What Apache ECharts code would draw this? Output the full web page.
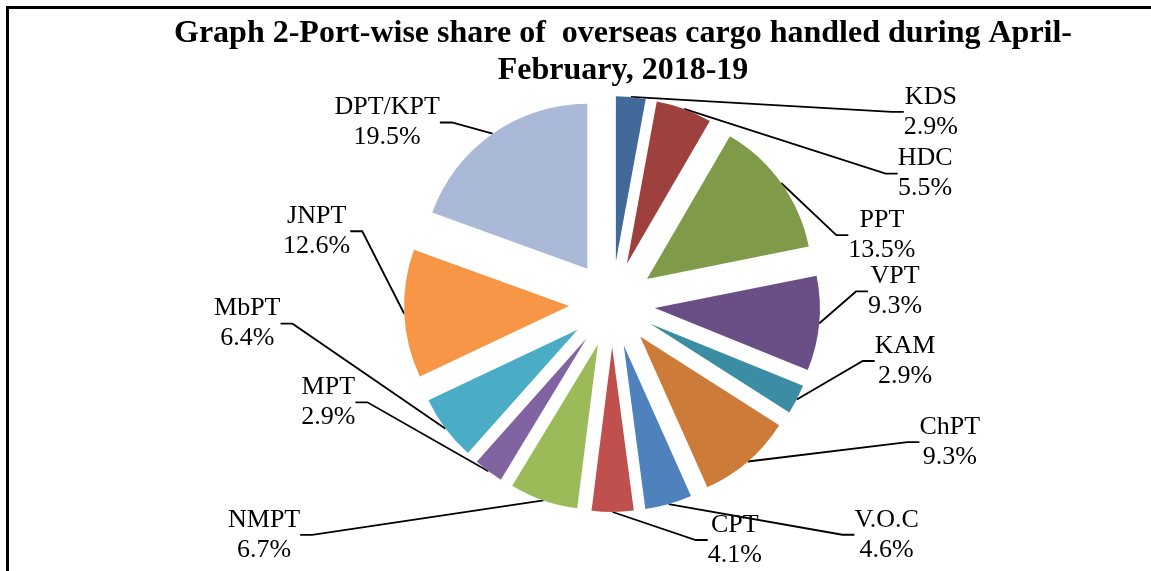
<!DOCTYPE html>
<html>
<head>
<meta charset="utf-8">
<script src="https://cdn.jsdelivr.net/npm/echarts@6/dist/echarts.min.js"></script>
<style>
  html, body { margin: 0; padding: 0; background: #fff; }
  #chart { width: 1151px; height: 571px; }
</style>
</head>
<body>
<div id="chart"></div>
<script>
// port-wise share (%), clockwise from 12 o'clock
const ports = ['KDS', 'HDC', 'PPT', 'VPT', 'KAM', 'ChPT', 'V.O.C', 'CPT', 'NMPT', 'MPT', 'MbPT', 'JNPT', 'DPT/KPT']
const shares = [2.9, 5.5, 13.5, 9.3, 2.9, 9.3, 4.6, 4.1, 6.7, 2.9, 6.4, 12.6, 19.5]

const colors = ['#41699A', '#9E413E', '#7F9B49', '#6A4F87', '#3B8DA4', '#CD7B38', '#4F81BD',
  '#C0504D', '#9BBB59', '#8064A2', '#4BACC6', '#F79646', '#AAB9D7']

// nudge of each label away from echarts' default spot, px
const labelNudge = [[255, 23], [193, 72], [42, 56], [22, -35], [52, -45], [148, -29], [166, 19],
  [78, 16], [-223, 23], [-110, -79], [-140, -113], [-27, -85], [-30, -5]]

const CX = 612, CY = 304, R = 165, EXPLODE = 43
const serif = '"Liberation Serif", "Times New Roman", serif'

const total = shares.reduce((a, b) => a + b, 0)

// every slice is pulled out, so each one gets its own pie whose centre is shifted
// along the slice's mid angle; the other slices of that pie stay invisible
function explodedSeries() {
  let acc = 0
  return shares.map((v, i) => {
    const mid = (acc + v / 2) / total * Math.PI * 2
    acc += v
    return {
      type: 'pie',
      center: [CX + EXPLODE * Math.sin(mid), CY - EXPLODE * Math.cos(mid)],
      radius: R,
      startAngle: 90,
      clockwise: true,
      silent: true,
      avoidLabelOverlap: false,
      emphasis: { disabled: true },
      label: {
        position: 'outside',
        formatter: (p) => `{c|${p.name}}\n{c|${p.value}%}`,
        rich: { c: { align: 'center', fontFamily: serif, fontSize: 26, lineHeight: 30, color: '#000' } },
      },
      labelLine: { length: 10, length2: 12, lineStyle: { color: '#000', width: 1.8 } },
      labelLayout: (p) => {
        if (p.dataIndex !== i) return {}
        return {
          x: p.labelRect.x + labelNudge[i][0],
          y: p.labelRect.y + labelNudge[i][1],
          align: 'left',
          verticalAlign: 'top',
        }
      },
      data: ports.map((name, j) => ({
        name,
        value: shares[j],
        itemStyle: j === i ? { color: colors[j] } : { color: colors[j], opacity: 0 },
        label: { show: j === i },
        labelLine: { show: j === i },
      })),
    }
  })
}

const chart = echarts.init(document.getElementById('chart'))

chart.setOption({
  animation: false,
  title: {
    text: 'Graph 2-Port-wise share of  overseas cargo handled during April-\nFebruary, 2018-19',
    left: 623,
    top: 15,
    padding: 0,
    textAlign: 'center',
    textStyle: { fontFamily: serif, fontWeight: 'bold', fontSize: 32, lineHeight: 37, color: '#000' },
  },
  graphic: [{
    type: 'polyline',
    shape: { points: [[7.5, 571], [7.5, 7.5], [1151, 7.5]] },
    style: { stroke: '#000', lineWidth: 3, fill: null },
  }],
  series: explodedSeries(),
})
</script>
</body>
</html>
